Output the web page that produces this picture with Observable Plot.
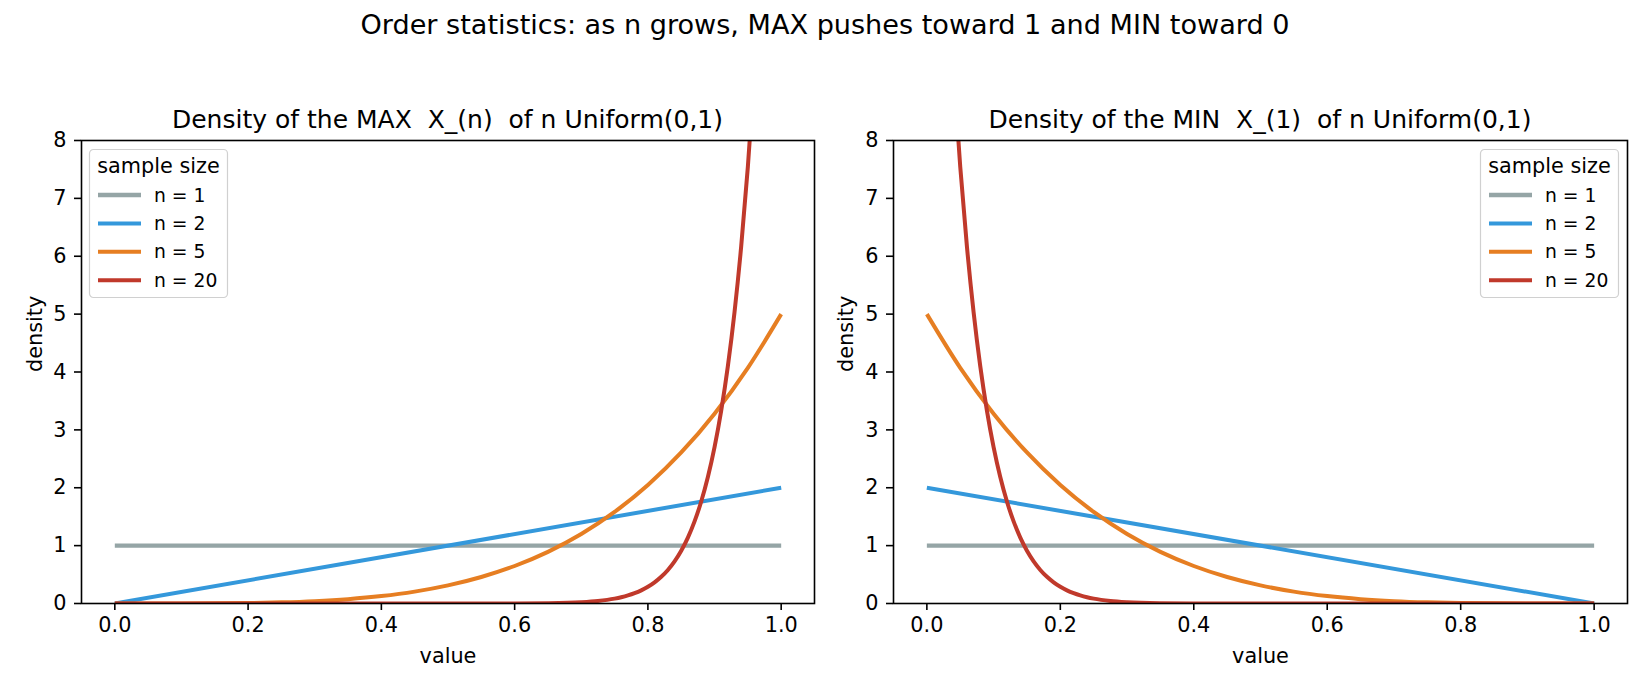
<!DOCTYPE html>
<html><head><meta charset="utf-8">
<script src="https://cdn.jsdelivr.net/npm/d3@7"></script>
<script src="https://cdn.jsdelivr.net/npm/@observablehq/plot@0.6"></script>
<style>
body{margin:0;background:#fff;font-family:"DejaVu Sans",sans-serif;}
#fig{position:relative;width:1650px;height:690px;overflow:hidden;background:#fff;}
#fig > *{position:absolute;}
</style></head><body><div id="fig"></div>
<script>
// ---- data ----
const sampleSizes = [1, 2, 5, 20];
const seriesLabels = ["n = 1", "n = 2", "n = 5", "n = 20"];
const seriesColors = ["#95a5a6", "#3498db", "#e67e22", "#c0392b"];
const seriesWidths = [4.4, 4.0, 4.0, 4.0];
const xTicks = [0, 0.2, 0.4, 0.6, 0.8, 1.0];
const yTicks = [0, 1, 2, 3, 4, 5, 6, 7, 8];
const suptitle = "Order statistics: as n grows, MAX pushes toward 1 and MIN toward 0";
const panelTitles = ["Density of the MAX  X_(n)  of n Uniform(0,1)", "Density of the MIN  X_(1)  of n Uniform(0,1)"];
const legendTitle = "sample size";

// MAX panel (density)
const maxX1 = [0, 1];
const maxY1 = [1, 1];
const maxX2 = [0, 1];
const maxY2 = [0, 2];
const maxX5 = [0, 0.05, 0.1, 0.15, 0.2, 0.25, 0.3, 0.35, 0.4, 0.45, 0.5, 0.55, 0.6, 0.65, 0.7, 0.75, 0.8, 0.85, 0.9, 0.95, 1.0];
const maxY5 = [0, 0.00003, 0.0005, 0.0025, 0.008, 0.0195, 0.0405, 0.075, 0.128, 0.205, 0.3125, 0.4575, 0.648, 0.8925, 1.2005, 1.582, 2.048, 2.61, 3.2805, 4.0725, 5.0];
const maxX20 = [0, 0.2, 0.4, 0.5, 0.6, 0.65, 0.7, 0.725, 0.75, 0.76, 0.77, 0.78, 0.79, 0.8, 0.81, 0.82, 0.83, 0.84, 0.85, 0.86, 0.87, 0.88, 0.89, 0.9, 0.91, 0.92, 0.93, 0.94, 0.95, 0.96, 0.97, 0.98, 0.99, 1.0];
const maxY20 = [0, 0, 0, 0.00004, 0.0012, 0.0056, 0.0228, 0.0444, 0.0845, 0.1088, 0.1395, 0.1782, 0.227, 0.2882, 0.365, 0.4607, 0.5799, 0.7282, 0.912, 1.1389, 1.4183, 1.7623, 2.185, 2.7017, 3.3326, 4.1018, 5.0375, 6.1721, 7.5471, 9.2084, 11.21, 13.63, 16.52, 20.0];

// MIN panel (density)
const minX1 = [0, 1];
const minY1 = [1, 1];
const minX2 = [0, 1];
const minY2 = [2, 0];
const minX5 = [0, 0.05, 0.1, 0.15, 0.2, 0.25, 0.3, 0.35, 0.4, 0.45, 0.5, 0.55, 0.6, 0.65, 0.7, 0.75, 0.8, 0.85, 0.9, 0.95, 1.0];
const minY5 = [5.0, 4.0725, 3.2805, 2.61, 2.048, 1.582, 1.2005, 0.8925, 0.648, 0.4575, 0.3125, 0.205, 0.128, 0.075, 0.0405, 0.0195, 0.008, 0.0025, 0.0005, 0.00003, 0];
const minX20 = [0, 0.01, 0.02, 0.03, 0.04, 0.05, 0.06, 0.07, 0.08, 0.09, 0.1, 0.11, 0.12, 0.13, 0.14, 0.15, 0.16, 0.17, 0.18, 0.19, 0.2, 0.21, 0.22, 0.23, 0.24, 0.25, 0.275, 0.3, 0.35, 0.4, 0.5, 0.6, 0.8, 1.0];
const minY20 = [20.0, 16.52, 13.63, 11.21, 9.2084, 7.5471, 6.1721, 5.0375, 4.1018, 3.3326, 2.7017, 2.185, 1.7623, 1.4183, 1.1389, 0.912, 0.7282, 0.5799, 0.4607, 0.365, 0.2882, 0.227, 0.1782, 0.1395, 0.1088, 0.0845, 0.0444, 0.0228, 0.0056, 0.0012, 0.00004, 0, 0, 0];

// ---- build ----
const FONT = "DejaVu Sans";
const fig = document.getElementById("fig");
const toRows = (xs, ys) => xs.map((x, i) => ({x, y: ys[i]}));

const maxSeries = [toRows(maxX1, maxY1), toRows(maxX2, maxY2), toRows(maxX5, maxY5), toRows(maxX20, maxY20)];
const minSeries = [toRows(minX1, minY1), toRows(minX2, minY2), toRows(minX5, minY5), toRows(minX20, minY20)];

function panel(series, {left, width, marginLeft, marginRight, densityDx}) {
  const p = Plot.plot({
    width, height: 690,
    marginTop: 140, marginBottom: 87, marginLeft, marginRight,
    style: {fontFamily: FONT, fontSize: "20.8px", color: "black", background: "transparent", overflow: "visible"},
    x: {domain: [-0.05, 1.05]},
    y: {domain: [0, 8]},
    marks: [
      ...series.map((rows, i) => Plot.line(rows, {
        x: "x", y: "y", stroke: seriesColors[i], strokeWidth: seriesWidths[i],
        curve: "monotone-x", clip: true, strokeLinecap: "butt"
      })),
      Plot.frame({stroke: "black", strokeWidth: 1.6}),
      Plot.axisX({ticks: xTicks, tickFormat: d3.format(".1f"), tickSize: 7, tickPadding: 7, fontSize: 20.8, strokeWidth: 1.6, label: null}),
      Plot.axisY({ticks: yTicks, tickFormat: d3.format("d"), tickSize: 7, tickPadding: 8, fontSize: 20.8, strokeWidth: 1.6, label: null}),
      Plot.text(["value"], {frameAnchor: "bottom", dy: 53, fontSize: 20.8, lineAnchor: "middle", fill: "black"}),
      Plot.text(["density"], {frameAnchor: "left", dx: densityDx, rotate: -90, fontSize: 20.8, lineAnchor: "middle", fill: "black"})
    ]
  });
  p.style.left = left + "px";
  p.style.top = "0px";
  fig.appendChild(p);
}

panel(maxSeries, {left: 0, width: 820, marginLeft: 81, marginRight: 6, densityDx: -46});
panel(minSeries, {left: 820, width: 830, marginLeft: 73, marginRight: 23, densityDx: -47});

// titles overlay
const ov = d3.select(fig).append("svg").attr("width", 1650).attr("height", 690)
  .style("left", "0px").style("top", "0px").style("pointer-events", "none")
  .attr("font-family", FONT);
ov.append("text").attr("x", 825).attr("y", 33.5).attr("text-anchor", "middle")
  .attr("font-size", 27.1).style("white-space", "pre").text(suptitle);
const panelCenters = [(81 + 814) / 2, (893 + 1627) / 2];
panelTitles.forEach((t, i) => {
  ov.append("text").attr("x", panelCenters[i]).attr("y", 127.5).attr("text-anchor", "middle")
    .attr("font-size", 25).style("white-space", "pre").text(t);
});

// legends
function legend(bx, by) {
  const w = 138, h = 148;
  const g = ov.append("g").attr("transform", `translate(${bx},${by})`);
  g.append("rect").attr("x", 0.5).attr("y", 0.5).attr("width", w).attr("height", h)
    .attr("rx", 4).attr("fill", "rgba(255,255,255,0.8)").attr("stroke", "#d0d0d0").attr("stroke-width", 1.2);
  g.append("text").attr("x", w / 2 + 0.5).attr("y", 17).attr("dy", "0.35em").attr("text-anchor", "middle")
    .attr("font-size", 20.8).text(legendTitle);
  sampleSizes.forEach((n, i) => {
    const cy = 46 + i * 28.4;
    g.append("line").attr("x1", 9).attr("x2", 52).attr("y1", cy).attr("y2", cy)
      .attr("stroke", seriesColors[i]).attr("stroke-width", seriesWidths[i]);
    g.append("text").attr("x", 65).attr("y", cy).attr("dy", "0.35em")
      .attr("font-size", 18.75).text(seriesLabels[i]);
  });
}
legend(89, 149);
legend(1480, 149);
</script></body></html>
